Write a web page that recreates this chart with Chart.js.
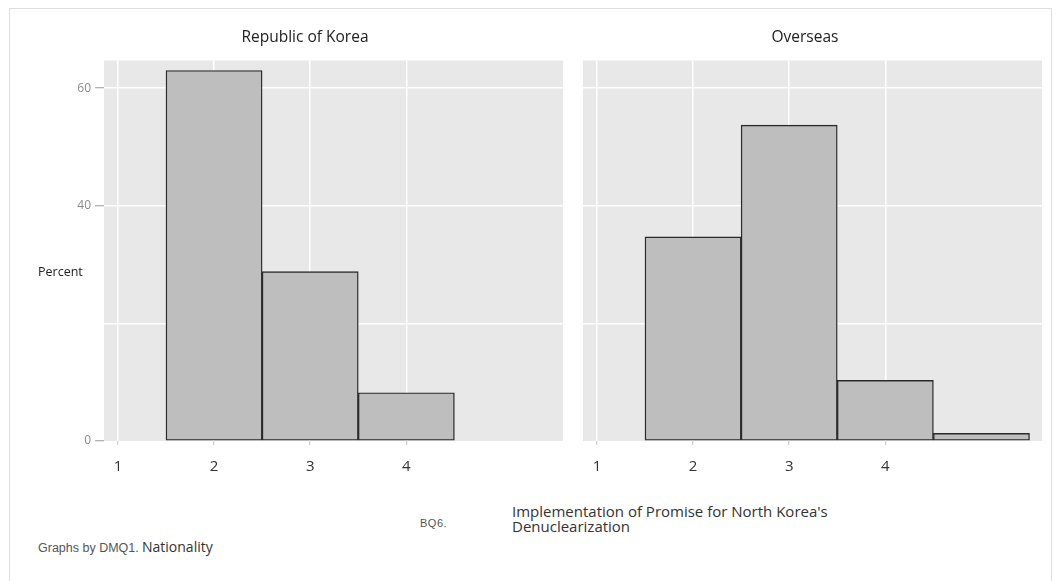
<!DOCTYPE html>
<html>
<head>
<meta charset="utf-8">
<script src="https://cdn.jsdelivr.net/npm/chart.js@4.4.1/dist/chart.umd.min.js"></script>
<style>
  html, body { margin: 0; padding: 0; background: #ffffff; }
  body { width: 1061px; height: 581px; position: relative; overflow: hidden; font-family: "Open Sans", sans-serif; }
  .frame { position: absolute; left: 9px; top: 8px; width: 1043px; height: 640px; border: 1.5px solid #dedede; box-sizing: border-box; }
  .panel { position: absolute; top: 0; }
  .t { position: absolute; white-space: nowrap; line-height: 1; }
</style>
</head>
<body>
<div class="frame"></div>

<canvas id="korea" class="panel" width="570" height="500" style="left:0"></canvas>
<canvas id="overseas" class="panel" width="491" height="500" style="left:570px"></canvas>

<div class="t" style="left:170px;width:270px;top:29px;text-align:center;font-size:15.5px;color:#222">Republic of Korea</div>
<div class="t" style="left:680px;width:250px;top:29px;text-align:center;font-size:15.5px;color:#222">Overseas</div>
<div class="t" style="left:38px;top:266px;font-size:12.5px;color:#222">Percent</div>

<div class="t" style="left:38px;top:542px;font-family:'Liberation Sans',Arial,sans-serif;font-size:12.5px;color:#555">Graphs by DMQ1.</div>
<div class="t" style="left:142px;top:540px;font-size:14px;color:#333">Nationality</div>
<div class="t" style="left:420px;top:518px;font-family:'Liberation Sans',Arial,sans-serif;font-size:11px;letter-spacing:0.5px;color:#555">BQ6.</div>
<div class="t" style="left:512px;top:504px;font-size:15px;color:#333;line-height:15px">Implementation of Promise for North Korea's<br>Denuclearization</div>

<script>
// Percent of respondents by answer (BQ6), split by nationality (DMQ1)
const koreaCats = [2, 3, 4];
const koreaPct = [63.0, 28.8, 8.2];

const overseasCats = [2, 3, 4, 5];
const overseasPct = [34.7, 53.7, 10.3, 1.3];

// Axis ticks
const xTickValues = [1, 2, 3, 4];
const yTickValues = [0, 20, 40, 60];
const yTickLabelled = [0, 40, 60];

// Shared axis ranges
const xRange = [0.855, 5.63];
const yRange = [0, 64.7];

// Grey plot region behind grid and bars
const plotBackground = {
  id: 'plotBackground',
  beforeDraw(chart) {
    const { ctx, chartArea: a } = chart;
    ctx.save();
    ctx.fillStyle = '#e8e8e8';
    ctx.fillRect(a.left, a.top, a.right - a.left, a.bottom - a.top);
    ctx.restore();
  }
};

function makePanel(canvasId, cats, pct, withYLabels, yAxisWidth, padRight) {
  const ctx = document.getElementById(canvasId);
  return new Chart(ctx, {
    type: 'bar',
    data: {
      datasets: [{
        data: cats.map((c, i) => ({ x: c, y: pct[i] })),
        backgroundColor: '#bebebe',
        borderColor: '#2a2a2a',
        borderWidth: 1.4,
        borderSkipped: false,
        barPercentage: 1,
        categoryPercentage: 1,
        grouped: false
      }]
    },
    options: {
      responsive: false,
      animation: false,
      events: [],
      layout: { padding: { left: 0, right: padRight, top: 60.5, bottom: 0 } },
      plugins: { legend: { display: false }, tooltip: { enabled: false }, title: { display: false } },
      scales: {
        x: {
          type: 'linear',
          offset: false,
          min: xRange[0],
          max: xRange[1],
          afterBuildTicks(scale) { scale.ticks = xTickValues.map(v => ({ value: v })); },
          afterFit(scale) { scale.height = 59; },
          border: { display: false },
          grid: {
            offset: false,
            color: '#ffffff',
            lineWidth: 1.5,
            drawTicks: true,
            tickLength: 4,
            tickColor: '#c4c4c4',
            tickWidth: 1
          },
          ticks: {
            color: '#333333',
            font: { family: 'Open Sans', size: 15 },
            padding: 13,
            maxRotation: 0,
            autoSkip: false,
            callback: v => String(v)
          }
        },
        y: {
          type: 'linear',
          min: yRange[0],
          max: yRange[1],
          afterBuildTicks(scale) { scale.ticks = yTickValues.map(v => ({ value: v })); },
          afterFit(scale) { scale.width = yAxisWidth; },
          border: { display: false },
          grid: {
            color: c => (c.tick && c.tick.value === 0) ? 'rgba(0,0,0,0)' : '#ffffff',
            lineWidth: 1.5,
            drawTicks: withYLabels,
            tickLength: 9,
            tickWidth: 1,
            tickColor: c => (c.tick && yTickLabelled.includes(c.tick.value)) ? '#9a9a9a' : 'rgba(0,0,0,0)'
          },
          ticks: {
            display: withYLabels,
            color: '#8a8a8a',
            font: { family: 'Open Sans', size: 12 },
            padding: 4,
            callback: v => yTickLabelled.includes(v) ? String(v) : ''
          }
        }
      }
    },
    plugins: [plotBackground]
  });
}

makePanel('korea', koreaCats, koreaPct, true, 104, 7);
makePanel('overseas', overseasCats, overseasPct, false, 13, 19);
</script>
</body>
</html>
